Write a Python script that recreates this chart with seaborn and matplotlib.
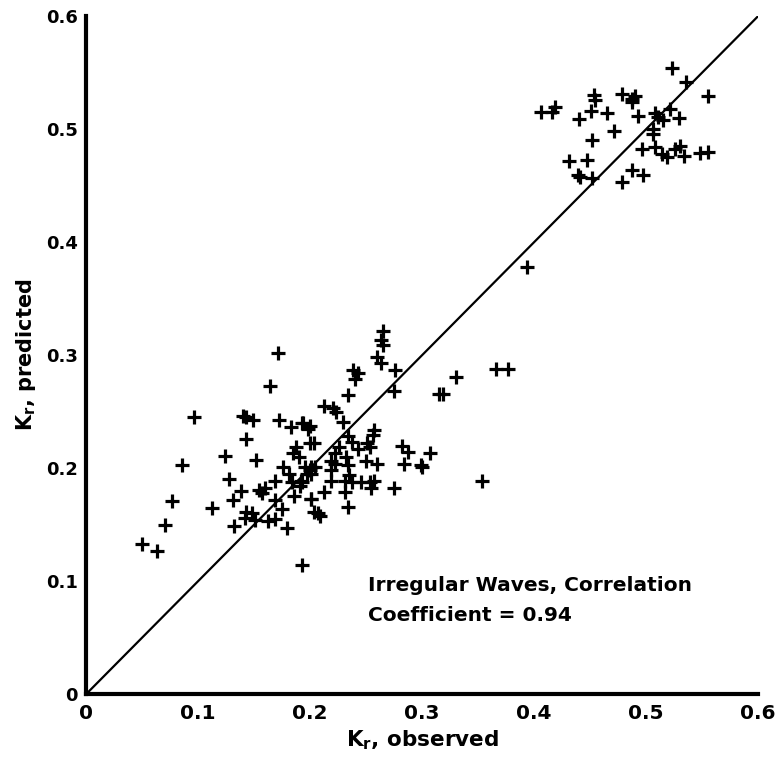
import matplotlib
matplotlib.use('Agg')
import matplotlib.pyplot as plt
import seaborn as sns
import pandas as pd

# Kr observed vs predicted
observed = [
    # upper cluster
    0.523, 0.536, 0.555, 0.453, 0.454, 0.478, 0.487, 0.490, 0.487, 0.406,
    0.416, 0.419, 0.440, 0.451, 0.465, 0.493, 0.508, 0.511, 0.515, 0.521,
    0.529, 0.471, 0.506, 0.506, 0.452, 0.496, 0.508, 0.514, 0.519, 0.526,
    0.530, 0.534, 0.548, 0.555, 0.431, 0.447, 0.439, 0.441, 0.452, 0.478,
    0.487, 0.497, 0.394,
    # lower cluster, left part
    0.171, 0.164, 0.096, 0.140, 0.143, 0.149, 0.172, 0.183, 0.193, 0.198,
    0.143, 0.124, 0.152, 0.086, 0.128, 0.138, 0.131, 0.112, 0.077, 0.070,
    0.050, 0.063, 0.193, 0.132, 0.143, 0.148, 0.151, 0.142, 0.154, 0.157,
    0.160, 0.162, 0.169, 0.169, 0.175, 0.179, 0.169, 0.176, 0.181, 0.187,
    0.185, 0.190, 0.186, 0.201, 0.203, 0.184, 0.193, 0.197, 0.201, 0.200,
    # lower cluster, right part
    0.265, 0.263, 0.265, 0.260, 0.263, 0.238, 0.243, 0.240, 0.276, 0.275,
    0.234, 0.330, 0.366, 0.377, 0.315, 0.319, 0.212, 0.220, 0.223, 0.229,
    0.194, 0.200, 0.203, 0.234, 0.237, 0.257, 0.256, 0.243, 0.253, 0.226,
    0.222, 0.232, 0.219, 0.250, 0.260, 0.234, 0.219, 0.231, 0.237, 0.245,
    0.253, 0.257, 0.254, 0.231, 0.212, 0.201, 0.275, 0.234, 0.207, 0.209,
    0.282, 0.287, 0.284, 0.307, 0.299, 0.300, 0.353, 0.195, 0.200, 0.204,
    0.192, 0.191, 0.201, 0.219, 0.222, 0.235, 0.251,
]
predicted = [
    # upper cluster
    0.554, 0.542, 0.529, 0.530, 0.526, 0.531, 0.527, 0.529, 0.524, 0.515,
    0.515, 0.520, 0.509, 0.516, 0.514, 0.512, 0.514, 0.511, 0.508, 0.518,
    0.510, 0.498, 0.500, 0.496, 0.490, 0.482, 0.484, 0.478, 0.475, 0.482,
    0.485, 0.476, 0.479, 0.480, 0.472, 0.473, 0.459, 0.458, 0.457, 0.453,
    0.464, 0.459, 0.378,
    # lower cluster, left part
    0.302, 0.273, 0.245, 0.246, 0.245, 0.243, 0.243, 0.236, 0.240, 0.235,
    0.226, 0.211, 0.207, 0.203, 0.190, 0.180, 0.172, 0.165, 0.171, 0.150,
    0.133, 0.127, 0.114, 0.149, 0.161, 0.160, 0.154, 0.156, 0.181, 0.178,
    0.182, 0.153, 0.155, 0.172, 0.164, 0.147, 0.189, 0.201, 0.195, 0.219,
    0.213, 0.210, 0.175, 0.173, 0.161, 0.188, 0.188, 0.195, 0.201, 0.222,
    # lower cluster, right part
    0.321, 0.313, 0.309, 0.298, 0.293, 0.287, 0.284, 0.279, 0.287, 0.268,
    0.265, 0.281, 0.288, 0.288, 0.266, 0.266, 0.255, 0.253, 0.250, 0.241,
    0.240, 0.237, 0.222, 0.228, 0.223, 0.234, 0.229, 0.217, 0.219, 0.219,
    0.213, 0.210, 0.206, 0.206, 0.204, 0.203, 0.189, 0.189, 0.188, 0.188,
    0.188, 0.189, 0.182, 0.179, 0.179, 0.173, 0.182, 0.166, 0.160, 0.158,
    0.220, 0.214, 0.204, 0.213, 0.203, 0.201, 0.189, 0.201, 0.198, 0.201,
    0.189, 0.184, 0.195, 0.198, 0.204, 0.194, 0.222,
]
ticks = [0, 0.1, 0.2, 0.3, 0.4, 0.5, 0.6]
tick_labels = ['0', '0.1', '0.2', '0.3', '0.4', '0.5', '0.6']
diag = [0, 0.6]

df = pd.DataFrame({'observed': observed, 'predicted': predicted})

sns.set_style('white')
plt.rcParams['font.family'] = ['DejaVu Sans']
plt.rcParams['text.color'] = 'black'
plt.rcParams['axes.labelcolor'] = 'black'
plt.rcParams['xtick.color'] = 'black'
plt.rcParams['ytick.color'] = 'black'

fig = plt.figure(figsize=(7.76, 7.67), dpi=100)
ax = fig.add_axes([0.111, 0.095, 0.866, 0.884])

# perfect-agreement line
sns.lineplot(x=diag, y=diag, color='black', linewidth=1.6, ax=ax)

sns.scatterplot(data=df, x='observed', y='predicted', marker='+', s=105,
                color='black', linewidth=2.3, ax=ax)

ax.set_xlim(0, 0.6)
ax.set_ylim(0, 0.6)
ax.set_xticks(ticks)
ax.set_xticklabels(tick_labels, fontsize=14.5, fontweight='bold')
ax.set_yticks(ticks)
ax.set_yticklabels(tick_labels, fontsize=13, fontweight='bold')
ax.tick_params(axis='x', length=0, pad=7, labelcolor='black')
ax.tick_params(axis='y', direction='in', length=12, width=2.5, pad=6,
               color='black', labelcolor='black')

for side in ['top', 'right']:
    ax.spines[side].set_visible(False)
for side in ['left', 'bottom']:
    ax.spines[side].set_linewidth(3)
    ax.spines[side].set_color('black')

ax.set_xlabel(r'K$_\mathbf{r}$, observed', fontsize=15.5, fontweight='bold',
              labelpad=4, color='black')
ax.set_ylabel(r'K$_\mathbf{r}$, predicted', fontsize=15, fontweight='bold',
              labelpad=6, color='black')

ax.text(0.252, 0.0965, 'Irregular Waves, Correlation', fontsize=14.5,
        fontweight='bold', va='center', ha='left', color='black')
ax.text(0.252, 0.070, 'Coefficient = 0.94', fontsize=14.5,
        fontweight='bold', va='center', ha='left', color='black')

fig.savefig('out.png', dpi=100)
